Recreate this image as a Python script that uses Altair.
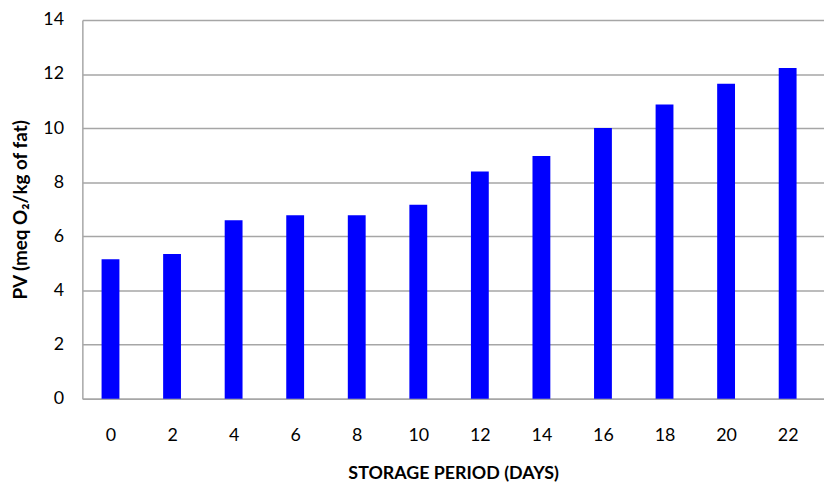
import altair as alt
import pandas as pd

days = [0, 2, 4, 6, 8, 10, 12, 14, 16, 18, 20, 22]
pv = [5.15, 5.35, 6.6, 6.78, 6.78, 7.17, 8.40, 8.97, 10.01, 10.87, 11.64, 12.22]
y_ticks = [0, 2, 4, 6, 8, 10, 12, 14]

df = pd.DataFrame({"day": days, "pv": pv})

FONT = "Lato"

chart = alt.Chart(df).mark_bar(color="#0000FF", size=18).encode(
    x=alt.X(
        "day:Q",
        scale=alt.Scale(domain=[-0.753, 23.02], nice=False, zero=False),
        axis=alt.Axis(
            values=days,
            title="STORAGE PERIOD (DAYS)",
            grid=False,
            ticks=False,
            domainColor="#A6A6A6",
            domainWidth=1.5,
            labelPadding=28,
            labelFont=FONT,
            labelFontSize=18,
            labelColor="#000000",
            titleFont=FONT,
            titleFontSize=18,
            titleFontWeight="bold",
            titleColor="#000000",
            titleY=76,
            titleBaseline="middle",
        ),
    ),
    y=alt.Y(
        "pv:Q",
        scale=alt.Scale(domain=[0, 14], nice=False),
        axis=alt.Axis(
            values=y_ticks,
            title="PV (meq O₂/kg of fat)",
            grid=True,
            gridColor="#A6A6A6",
            gridWidth=1.5,
            ticks=False,
            domainColor="#A6A6A6",
            domainWidth=1.5,
            labelPadding=19,
            labelFont=FONT,
            labelFontSize=18,
            labelColor="#000000",
            titleFont=FONT,
            titleFontSize=19,
            titleFontWeight="bold",
            titleColor="#000000",
            titleX=-62,
            titleY=191,
            titleAngle=-90,
            titleBaseline="middle",
        ),
    ),
).properties(
    width=748,
    height=382,
    autosize=alt.AutoSizeParams(type="none"),
    padding={"left": 75, "top": 10, "right": 0, "bottom": 84},
).configure_view(stroke=None)

chart.save("out.html", embed_options={"renderer": "svg", "actions": False})
